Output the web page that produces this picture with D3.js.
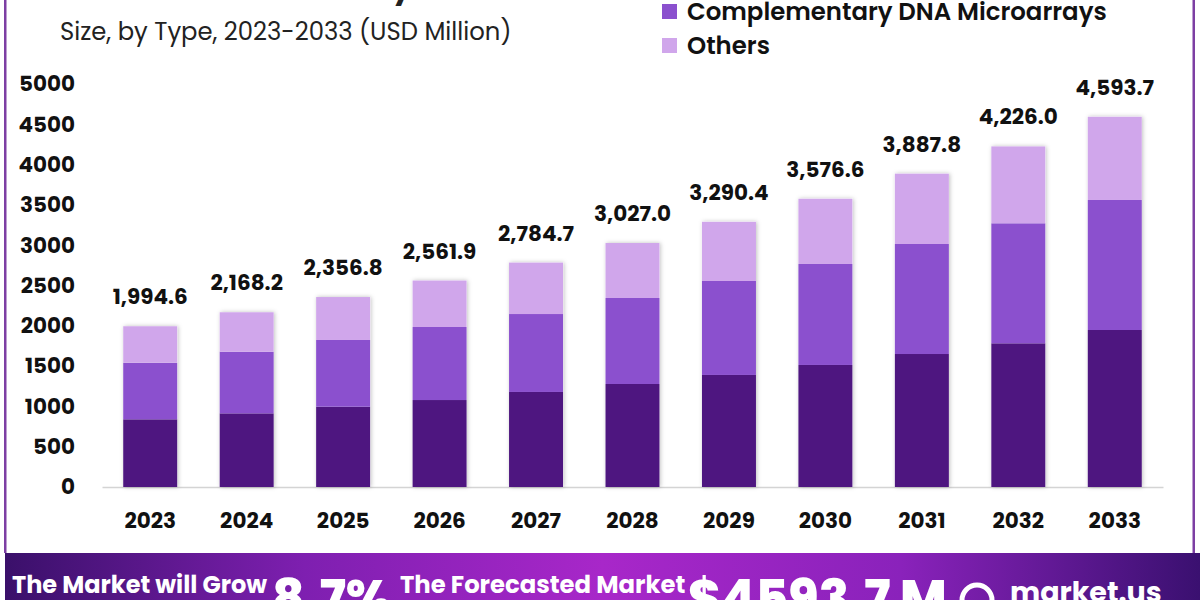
<!DOCTYPE html>
<html><head><meta charset="utf-8">
<script src="https://cdn.jsdelivr.net/npm/d3@7"></script>
<style>body{margin:0;background:#fff;}svg{display:block;font-family:"Poppins","Inter","Open Sans",sans-serif;}</style>
</head><body>
<svg id="c" width="1200" height="600"></svg>
<script>
const years = ["2023","2024","2025","2026","2027","2028","2029","2030","2031","2032","2033"];
const totals = [1994.6,2168.2,2356.8,2561.9,2784.7,3027.0,3290.4,3576.6,3887.8,4226.0,4593.7];
const oligo = [840,914,996,1079,1179,1278,1390,1514,1650,1783,1948];
const complementary = [702,765,828,906,967,1067,1166,1253,1365,1489,1613];
const others = totals.map((t,i)=>+(t-oligo[i]-complementary[i]).toFixed(1));
const seriesNames = ["Oligonucleotide DNA Microarrays","Complementary DNA Microarrays","Others"];
const colors = ["#4e1680","#8b50ce","#d0a6eb"];
const yTicks = [0,500,1000,1500,2000,2500,3000,3500,4000,4500,5000];

const FONT = '"Poppins","Inter","Open Sans",sans-serif';
const svg = d3.select("#c");
const defs = svg.append("defs");
const g1 = defs.append("linearGradient").attr("id","foot").attr("x1","0").attr("x2","1");
[[0,"#3a106a"],[0.25,"#7e1fb0"],[0.5,"#a827c9"],[0.75,"#8a22bb"],[1,"#3a1070"]].forEach(([o,c])=>g1.append("stop").attr("offset",o).attr("stop-color",c));
const f = defs.append("filter").attr("id","sh").attr("x","-20%").attr("y","-5%").attr("width","140%").attr("height","110%");
f.append("feDropShadow").attr("dx",1).attr("dy",0).attr("stdDeviation",2).attr("flood-color","#000").attr("flood-opacity",0.25);

// frame borders
svg.append("rect").attr("x",4).attr("y",0).attr("width",2.5).attr("height",553).attr("fill","#7d3fa3");
svg.append("rect").attr("x",1192.5).attr("y",0).attr("width",2.5).attr("height",553).attr("fill","#7d3fa3");

// title (cut at top, as in the reference) and subtitle
svg.append("text").attr("x",60).attr("y",-2).attr("font-size",30).attr("font-weight",700).attr("fill","#222").text("Global DNA Microarray Market");
svg.append("text").attr("x",60).attr("y",40).attr("font-size",24.3).attr("fill","#222").text("Size, by Type, 2023-2033 (USD Million)");

const x = d3.scaleBand().domain(years).range([102,1163]).paddingInner(0.44).paddingOuter(0.22);
const y = d3.scaleLinear().domain([0,5000]).range([487,84]);

// y axis labels
const yAxis = d3.axisLeft(y).tickValues(yTicks).tickSize(0).tickPadding(0).tickFormat(d3.format("d"));
const ya = svg.append("g").attr("transform","translate(75,0)").call(yAxis);
ya.select(".domain").remove();
ya.selectAll("text").attr("font-size",21.5).attr("font-weight",700).attr("fill","#111").attr("font-family",FONT);

// baseline + x labels
const xAxis = d3.axisBottom(x).tickSize(0).tickPadding(26);
const xa = svg.append("g").attr("transform","translate(0,487)").call(xAxis);
xa.select(".domain").attr("stroke","#d4d4d4").attr("stroke-width",1.5);
xa.selectAll("text").attr("font-size",21.5).attr("font-weight",700).attr("fill","#111").attr("font-family",FONT);

// stacked bars
const rows = years.map((yr,i)=>({year:yr,a:oligo[i],b:complementary[i],c:others[i]}));
const stack = d3.stack().keys(["a","b","c"])(rows);
svg.append("g").selectAll("rect").data(rows).join("rect")
  .attr("x",d=>x(d.year)).attr("width",x.bandwidth())
  .attr("y",(d,i)=>y(totals[i])).attr("height",(d,i)=>y(0)-y(totals[i]))
  .attr("fill","#fff").attr("filter","url(#sh)");
svg.append("g").selectAll("g").data(stack).join("g").attr("fill",(d,i)=>colors[i])
  .selectAll("rect").data(d=>d).join("rect")
  .attr("x",d=>x(d.data.year)).attr("width",x.bandwidth())
  .attr("y",d=>y(d[1])).attr("height",d=>y(d[0])-y(d[1]));

// value labels
svg.append("g").selectAll("text").data(years).join("text")
  .attr("x",d=>x(d)+x.bandwidth()/2).attr("y",(d,i)=>y(totals[i])-22)
  .attr("text-anchor","middle").attr("font-size",21.5).attr("font-weight",700).attr("fill","#111")
  .text((d,i)=>d3.format(",.1f")(totals[i]));

// legend
const leg = svg.append("g");
seriesNames.forEach((n,i)=>{
  const yy = -22.5 + i*34;
  leg.append("rect").attr("x",662).attr("y",yy-7.5).attr("width",15).attr("height",15).attr("fill",colors[i]);
  leg.append("text").attr("x",687).attr("y",yy+8.5).attr("font-size",24.4).attr("font-weight",600).attr("fill","#111").text(n);
});

// footer
svg.append("rect").attr("x",5).attr("y",553).attr("width",1195).attr("height",47).attr("fill","url(#foot)");
const ft = svg.append("g").attr("fill","#fff").attr("font-weight",700);
ft.append("text").attr("x",12).attr("y",593).attr("font-size",24).text("The Market will Grow");
ft.append("text").attr("x",272).attr("y",616).attr("font-size",50).attr("font-weight",800).text("8.7%");
ft.append("text").attr("x",400).attr("y",593).attr("font-size",24.3).text("The Forecasted Market");
ft.append("text").attr("x",688).attr("y",616).attr("font-size",50).attr("font-weight",800).text("$4593.7 M");
ft.append("text").attr("x",1010).attr("y",602).attr("font-size",28.5).text("market.us");
ft.append("path").attr("d","M962,600 a15,15 0 1 1 30,0").attr("fill","none").attr("stroke","#fff").attr("stroke-width",5);
</script>
</body></html>
